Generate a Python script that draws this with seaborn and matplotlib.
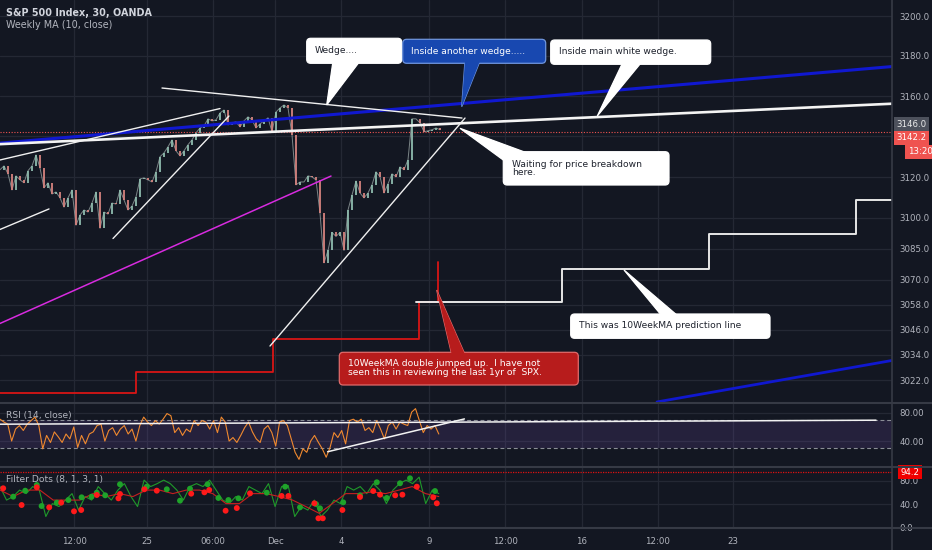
import numpy as np
import matplotlib
matplotlib.use("Agg")
import matplotlib.pyplot as plt
import matplotlib.transforms as mtrans
from matplotlib.patches import FancyBboxPatch, Polygon
from matplotlib.ticker import FixedLocator, NullLocator, FixedFormatter
import seaborn as sns

# ---------------- data ----------------
closes = [3123.6, 3125.5, 3121.6, 3113.7, 3120.6, 3118.6, 3117.2, 3123.1, 3125.5, 3130.9,
          3124.5, 3114.7, 3117.2, 3111.7, 3112.7, 3109.8, 3105.3, 3109.8, 3113.7, 3096.5,
          3101.4, 3103.9, 3102.9, 3107.3, 3112.7, 3095.0, 3102.9, 3101.9, 3107.3, 3106.8,
          3113.7, 3108.8, 3103.9, 3105.8, 3110.3, 3119.1, 3119.6, 3118.6, 3117.6, 3122.6,
          3130.0, 3131.9, 3134.9, 3138.3, 3132.9, 3130.4, 3132.9, 3135.9, 3138.3, 3141.8,
          3144.2, 3145.2, 3148.7, 3147.7, 3148.2, 3151.6, 3153.1, 3145.7, 3146.7, 3147.2,
          3144.7, 3147.7, 3149.7, 3148.2, 3144.2, 3146.2, 3147.7, 3149.2, 3142.3, 3152.1,
          3154.1, 3155.6, 3154.1, 3140.8, 3116.2, 3117.6, 3117.6, 3120.6, 3120.1, 3118.6,
          3102.4, 3078.2, 3084.2, 3093.0, 3091.0, 3093.0, 3084.2, 3103.9, 3111.2, 3118.1,
          3112.2, 3109.8, 3112.2, 3116.2, 3122.6, 3120.1, 3112.2, 3116.7, 3121.6, 3120.1,
          3125.0, 3123.6, 3128.5, 3148.7, 3148.7, 3146.7, 3142.3, 3142.8, 3143.3, 3144.2,
          3143.3]

rsi_values = [71, 67, 64, 40, 57, 62, 55, 64, 69, 74, 62, 29, 48, 38, 53, 46, 38, 50, 43, 60,
              31, 48, 36, 50, 53, 62, 64, 40, 55, 59, 48, 57, 62, 50, 57, 40, 62, 74, 67, 62,
              69, 64, 71, 79, 76, 52, 59, 48, 57, 53, 69, 62, 69, 67, 57, 69, 52, 74, 67, 40,
              45, 38, 48, 59, 67, 53, 43, 38, 57, 62, 52, 33, 67, 69, 62, 43, 24, 14, 29, 24,
              40, 48, 38, 29, 17, 31, 52, 45, 55, 36, 69, 71, 67, 71, 55, 59, 52, 69, 57, 43,
              62, 67, 57, 67, 64, 62, 81, 86, 69, 52, 62, 57, 62, 50]

filter_fast = [70, 47, 53, 64, 58, 70, 64, 19, 41, 36, 47, 58, 30, 53, 47, 70, 58, 47, 64, 75,
               53, 36, 81, 70, 75, 81, 75, 64, 47, 70, 75, 70, 81, 64, 47, 41, 53, 47, 70, 64,
               58, 75, 36, 70, 72, 19, 36, 30, 47, 19, 30, 47, 41, 70, 64, 70, 58, 75, 64, 41,
               64, 75, 81, 75, 86, 41, 64, 58]
filter_slow = [64, 53, 64, 64, 47, 47, 47, 58, 53, 58, 53, 64, 64, 58, 64, 64, 58, 41, 41, 58,
               58, 53, 47, 36, 24.5, 41, 58, 58, 61, 58, 64, 70, 58, 53]

red_dot_bar = [0.8, 5.4, 9.2, 12.3, 15.3, 18.5, 20.3, 24.2, 29.6, 30.0, 36.1, 39.2, 47.8, 51.1,
               52.3, 56.4, 59.2, 62.5, 70.4, 72.1, 78.6, 79.6, 80.7, 85.6, 90.0, 93.3, 95.0,
               98.8, 100.6, 104.2, 108.3, 109.2]
red_dot_val = [67.1, 38.6, 68.8, 34.7, 42.6, 27.9, 30.1, 55.7, 50.0, 57.4, 65.4, 63.0, 57.9, 60.2,
               64.2, 28.9, 33.5, 58.5, 54.0, 54.0, 41.5, 16.0, 16.0, 30.1, 52.3, 62.4, 56.2,
               55.1, 56.2, 69.8, 51.7, 41.5]
green_dot_bar = [3.3, 6.3, 9.2, 10.4, 14.2, 17.1, 20.4, 22.9, 24.2, 26.3, 30.0, 36.7, 41.7, 45.0,
                 47.5, 51.9, 54.6, 57.1, 59.6, 66.7, 71.3, 75.0, 79.0, 80.0, 85.8, 90.0, 94.2,
                 96.7, 100.0, 102.5, 108.75]
green_dot_val = [52.8, 63.0, 72.7, 36.9, 42.6, 47.1, 51.7, 52.8, 59.6, 55.1, 73.9, 69.8, 65.4, 46.0,
                 66.4, 73.9, 50.6, 47.1, 50.0, 59.6, 69.8, 34.7, 40.3, 33.0, 43.2, 55.1, 77.3,
                 50.6, 75.6, 84.1, 62.4]

# drawn lines: (bars, prices)
blue_upper_bar, blue_upper_px = [0, 223], [3136.7, 3174.7]
blue_lower_bar, blue_lower_px = [164.25, 223], [3011.6, 3031.3]
white_main_bar, white_main_px = [0, 223], [3136.2, 3156.2]
white_thin1_bar, white_thin1_px = [0, 55], [3128.4, 3153.8]
white_thin2_bar, white_thin2_px = [0, 12.25], [3094.4, 3104.4]
white_thin3_bar, white_thin3_px = [28.25, 57.25], [3090.0, 3150.1]
wedge_top_bar, wedge_top_px = [40.5, 115.5], [3164.0, 3149.1]
rising_bar, rising_px = [67.5, 116.25], [3038.2, 3149.1]
magenta_bar, magenta_px = [0, 82.75], [3049.0, 3120.5]
red_step_bar = [0, 34, 68.3, 104.75, 109.6, 109.6]
red_step_px = [3015.7, 3025.7, 3041.5, 3059.4, 3059.4, 3078.7]
pred_step_bar = [103.9, 140.4, 177.2, 214, 223]
pred_step_px = [3059.2, 3075.3, 3092.0, 3108.7, 3108.7]
rsi_line1_bar, rsi_line1_val = [0, 219], [63.9, 69.6]
rsi_line2_bar, rsi_line2_val = [81.9, 116.1], [24.8, 71.4]

last_price = 3142.2
prev_level = 3146.0
filter_last = 94.2

price_ticks = [3200, 3180, 3160, 3140, 3120, 3100, 3085, 3070, 3058, 3046, 3034, 3022]
price_tick_labels = ["3200.0", "3180.0", "3160.0", "", "3120.0", "3100.0", "3085.0",
                     "3070.0", "3058.0", "3046.0", "3034.0", "3022.0"]
rsi_ticks, rsi_tick_labels = [80, 40], ["80.00", "40.00"]
filt_ticks, filt_tick_labels = [80, 40, 0], ["80.0", "40.0", "0.0"]
time_tick_bars = [18.5, 36.67, 53.17, 68.83, 85.25, 107.25, 126.33, 145.42, 164.42, 183.33]
time_tick_labels = ["12:00", "25", "06:00", "Dec", "4", "9", "12:00", "16", "12:00", "23"]

# ---------------- style ----------------
BG = "#131722"
GRID = "#242834"
TXT = "#b2b5be"
SEP = "#363a45"
sns.set_theme(style="dark")
plt.rcParams["font.family"] = ["DejaVu Sans"]
plt.rcParams["axes.facecolor"] = BG
plt.rcParams["figure.facecolor"] = BG

fig = plt.figure(figsize=(9.32, 5.5), dpi=100)
W = 892 / 932
ax = fig.add_axes([0, 1 - 403 / 550, W, 403 / 550])
ax_r = fig.add_axes([0, 1 - 466.7 / 550, W, 63.7 / 550])
ax_f = fig.add_axes([0, 1 - 528 / 550, W, 61.3 / 550])

for a in (ax, ax_r, ax_f):
    a.set_facecolor(BG)
    for s in a.spines.values():
        s.set_visible(False)
    a.set_xlim(0, 223)
    a.xaxis.set_major_locator(FixedLocator(time_tick_bars))
    a.grid(True, axis="both", color=GRID, lw=0.9)
    a.yaxis.tick_right()
    a.tick_params(axis="both", which="both", length=0, labelsize=6.2, labelcolor=TXT)
    a.tick_params(axis="y", pad=5.5)
    a.set_xlabel("")
    a.set_ylabel("")

# ---------------- main price panel ----------------
ax.set_yscale("log")
ax.set_ylim(3011.1, 3208.1)
ax.yaxis.set_major_locator(FixedLocator(price_ticks))
ax.yaxis.set_major_formatter(FixedFormatter(price_tick_labels))
ax.yaxis.set_minor_locator(NullLocator())
ax.tick_params(axis="x", labelbottom=False)

c = np.array(closes)
o = np.r_[c[0], c[:-1]]
xb = np.arange(len(c))
up = c >= o
sns.lineplot(x=xb, y=c, ax=ax, color="#a7b3b1", lw=0.7, alpha=0.7)
ax.vlines(xb[up], o[up], c[up], color="#8fbcae", lw=1.3, zorder=3)
ax.vlines(xb[~up], c[~up], o[~up], color="#d6837f", lw=1.3, zorder=3)

ax.axhline(last_price, color="#ef5350", lw=0.8, ls=(0, (1, 1.5)), zorder=2)
ax.plot(magenta_bar, magenta_px, color="#d82be0", lw=1.1, zorder=4)
ax.plot(red_step_bar, red_step_px, color="#d81515", lw=1.3, drawstyle="steps-post", zorder=4)
ax.plot(pred_step_bar, pred_step_px, color="#e6e6e6", lw=1.4, drawstyle="steps-post", zorder=4)
ax.plot(blue_upper_bar, blue_upper_px, color="#1018d0", lw=2.2, zorder=5)
ax.plot(blue_lower_bar, blue_lower_px, color="#1018d0", lw=2.0, zorder=5)
ax.plot(white_main_bar, white_main_px, color="#f4f4f4", lw=1.9, zorder=6)
for bx, py in [(white_thin1_bar, white_thin1_px), (white_thin2_bar, white_thin2_px),
               (white_thin3_bar, white_thin3_px), (wedge_top_bar, wedge_top_px),
               (rising_bar, rising_px)]:
    ax.plot(bx, py, color="#f0f0f0", lw=1.0, zorder=6)

blend = mtrans.blended_transform_factory(ax.transAxes, ax.transData)
ax.annotate(f"{prev_level:.1f}", xy=(1.0, prev_level), xycoords=blend, xytext=(3.3, 0),
            textcoords="offset points", ha="left", va="center", fontsize=6.2, color="#ececec",
            bbox=dict(boxstyle="square,pad=0.32", fc="#4d515c", ec="none"), annotation_clip=False)
ax.annotate(f"{last_price:.1f}", xy=(1.0, last_price), xycoords=blend, xytext=(3.3, -4.3),
            textcoords="offset points", ha="left", va="center", fontsize=6.2, color="white",
            bbox=dict(boxstyle="square,pad=0.32", fc="#ef5350", ec="none"), annotation_clip=False)
ax.annotate("13:20", xy=(1.0, last_price), xycoords=blend, xytext=(11.5, -14.3),
            textcoords="offset points", ha="left", va="center", fontsize=6.2, color="white",
            bbox=dict(boxstyle="square,pad=0.32", fc="#ef5350", ec="none"), annotation_clip=False)

# ---------------- RSI panel ----------------
ax_r.set_ylim(3.6, 94.0)
ax_r.yaxis.set_major_locator(FixedLocator(rsi_ticks))
ax_r.yaxis.set_major_formatter(FixedFormatter(rsi_tick_labels))
ax_r.tick_params(axis="x", labelbottom=False)
ax_r.axhspan(30, 70, color="#7e57c2", alpha=0.17, lw=0)
ax_r.axhline(70, color="#8a8d96", lw=0.8, ls=(0, (3.5, 2.5)))
ax_r.axhline(30, color="#8a8d96", lw=0.8, ls=(0, (3.5, 2.5)))
rsi_x = np.linspace(0, 109.7, len(rsi_values))
sns.lineplot(x=rsi_x, y=rsi_values, ax=ax_r, color="#f0892f", lw=0.8)
ax_r.plot(rsi_line1_bar, rsi_line1_val, color="#f2f2f2", lw=1.1)
ax_r.plot(rsi_line2_bar, rsi_line2_val, color="#f2f2f2", lw=1.1)
ax_r.set_xlabel(""); ax_r.set_ylabel("")

# ---------------- Filter Dots panel ----------------
ax_f.set_ylim(-0.5, 103.8)
ax_f.yaxis.set_major_locator(FixedLocator(filt_ticks))
ax_f.yaxis.set_major_formatter(FixedFormatter(filt_tick_labels))
ax_f.set_xticklabels(time_tick_labels)
ax_f.tick_params(axis="x", pad=6.5)
ax_f.axhline(filter_last, color="#e01010", lw=0.9, ls=(0, (1, 1)))
sns.lineplot(x=np.linspace(0, 109.7, len(filter_fast)), y=filter_fast, ax=ax_f,
             color="#1f9a2a", lw=0.8)
sns.lineplot(x=np.linspace(0, 109.7, len(filter_slow)), y=filter_slow, ax=ax_f,
             color="#c62020", lw=0.8)
sns.scatterplot(x=green_dot_bar, y=green_dot_val, ax=ax_f, color="#1fa32a", s=18,
                edgecolor="none", zorder=5)
sns.scatterplot(x=red_dot_bar, y=red_dot_val, ax=ax_f, color="#ff1a1a", s=18,
                edgecolor="none", zorder=5)
ax_f.set_xlabel(""); ax_f.set_ylabel("")
blend_f = mtrans.blended_transform_factory(ax_f.transAxes, ax_f.transData)
ax_f.annotate(f"{filter_last:.1f}", xy=(1.0, filter_last), xycoords=blend_f, xytext=(6, 0),
              textcoords="offset points", ha="left", va="center", fontsize=6.2, color="white",
              bbox=dict(boxstyle="square,pad=0.3", fc="#f00000", ec="none"), annotation_clip=False)

# ---------------- overlay (pixel layout) ----------------
ov = fig.add_axes([0, 0, 1, 1], zorder=10)
ov.set_xlim(0, 932)
ov.set_ylim(550, 0)
ov.axis("off")
ov.patch.set_alpha(0)

for yy in (403, 466.7, 528):
    ov.plot([0, 932], [yy, yy], color=SEP, lw=1.5)
ov.plot([892, 892], [0, 550], color=SEP, lw=1.2)

ov.text(6.5, 12.7, "S&P 500 Index, 30, OANDA", fontsize=6.9, color="#d1d4dc", va="center",
        ha="left", fontweight="semibold")
ov.text(6.5, 25, "Weekly MA (10, close)", fontsize=6.9, color=TXT, va="center", ha="left")
ov.text(6.5, 415.5, "RSI (14, close)", fontsize=6.6, color=TXT, va="center", ha="left")
ov.text(6.5, 479.5, "Filter Dots (8, 1, 3, 1)", fontsize=6.6, color=TXT, va="center", ha="left")


def callout(x0, y0, x1, y1, tri, fc, ec, text, tx, ty, tc, lw=0.9):
    ov.add_patch(Polygon(tri, closed=True, fc=fc, ec=ec, lw=lw, zorder=20))
    ov.add_patch(FancyBboxPatch((x0, y0), x1 - x0, y1 - y0,
                                boxstyle="round,pad=0,rounding_size=4",
                                fc=fc, ec=ec, lw=lw, zorder=21))
    ov.add_patch(Polygon(tri, closed=True, fc=fc, ec="none", zorder=22))
    ov.text(tx, ty, text, fontsize=6.6, color=tc, ha="left", va="center", zorder=23,
            linespacing=0.95)


DARK = "#1e222d"
callout(306.7, 38.3, 401.7, 63.3, [(333, 61), (360, 61), (326.7, 105)],
        "white", "white", "Wedge....", 315, 50.7, DARK)
callout(402.7, 39.3, 545.7, 63.3, [(465, 61), (480, 61), (461.7, 106.7)],
        "#1848b0", "#6f95dd", "Inside another wedge.....", 411, 51.3, "white")
callout(550.7, 40, 710.7, 64.3, [(623, 62), (641.7, 62), (597.3, 116)],
        "white", "white", "Inside main white wedge.", 559, 52, DARK)
callout(503.3, 151.7, 669, 185, [(460, 128.3), (506, 162), (530, 154)],
        "white", "white", "Waiting for price breakdown\nhere.", 511.7, 168.5, DARK)
callout(570.7, 314, 770, 338.3, [(624, 270), (662, 316), (678, 316)],
        "white", "white", "This was 10WeekMA prediction line", 579, 326, DARK)
callout(339.3, 352.3, 578.3, 385, [(436.7, 290), (451.7, 354.5), (465, 354.5)],
        "#b71c1c", "#e06a6a",
        "10WeekMA double jumped up.  I have not\nseen this in reviewing the last 1yr of  SPX.",
        347.7, 368, "white")

fig.savefig("out.png", dpi=100, facecolor=BG)
